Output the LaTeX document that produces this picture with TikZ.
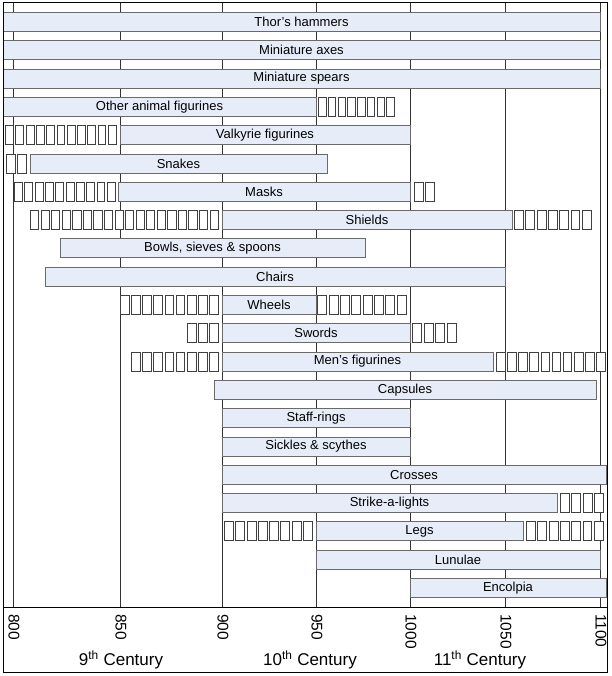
\documentclass[tikz,border=0pt]{standalone}
\usepackage{fontspec}
\setmainfont{Liberation Sans}
\definecolor{barfill}{HTML}{E7EDF8}
\definecolor{bardraw}{HTML}{6A6A6A}
\definecolor{gridc}{HTML}{333333}
\definecolor{glyphc}{HTML}{404040}
\tikzset{
  barsty/.style={draw=bardraw, fill=barfill, line width=0.9pt, inner sep=0pt,
    minimum height=19pt, font=\fontsize{13}{15}\selectfont},
  glyphbox/.style={draw=glyphc, fill=white, line width=0.9pt},
  gridline/.style={draw=gridc, line width=0.9pt},
  yearlab/.style={rotate=-90, anchor=west, inner sep=0pt, font=\fontsize{15.5}{17}\selectfont},
  centlab/.style={inner sep=0pt, font=\fontsize{17}{19}\selectfont}
}
% name, row, x0, x1, text
\newcommand\tbar[5]{%
  \node[barsty, minimum width={(#4-#3)*1pt}] (#1) at ({(#3+#4)/2},{22+28.3*#2}) {#5};}
% row, x0, x1, count
\newcommand\gboxes[4]{%
  \pgfmathsetmacro\gpitch{(#3-#2)/#4}%
  \foreach \k in {1,...,#4}{%
    \draw[glyphbox] ({#2+(\k-1)*\gpitch+0.6},{22+28.3*#1-9.5}) rectangle ++({\gpitch-2.4},19);
  }}
\begin{document}
\begin{tikzpicture}[x=1pt,y=-1pt]
\useasboundingbox (0,0) rectangle (611,676);
% grid lines
\foreach \gx/\gn in {13/g800,120/g850,222/g900,316/g950,410/g1000,505/g1050,600/g1100}{
  \coordinate (\gn t) at (\gx,3);
  \coordinate (\gn b) at (\gx,607);
  \draw[gridline] (\gn t) -- (\gn b);
}
% bars
\tbar{b0}{0}{3}{600}{Thor’s hammers}
\tbar{b1}{1}{3}{600}{Miniature axes}
\tbar{b2}{2}{3}{600}{Miniature spears}
\tbar{b3}{3}{3}{316}{Other animal figurines}
\tbar{b4}{4}{120}{410}{Valkyrie figurines}
\tbar{b5}{5}{30}{327}{Snakes}
\tbar{b6}{6}{118}{410}{Masks}
\tbar{b7}{7}{222}{512}{Shields}
\tbar{b8}{8}{60}{365}{Bowls, sieves \& spoons}
\tbar{b9}{9}{45}{505}{Chairs}
\tbar{b10}{10}{222}{316}{Wheels}
\tbar{b11}{11}{222}{410}{Swords}
\tbar{b12}{12}{222}{493}{Men’s figurines}
\tbar{b13}{13}{214}{596}{Capsules}
\tbar{b14}{14}{222}{410}{Staff-rings}
\tbar{b15}{15}{222}{410}{Sickles \& scythes}
\tbar{b16}{16}{222}{606}{Crosses}
\tbar{b17}{17}{222}{557}{Strike-a-lights}
\tbar{b18}{18}{316}{523}{Legs}
\tbar{b19}{19}{316}{600}{Lunulae}
\tbar{b20}{20}{410}{606}{Encolpia}
% empty glyph boxes
\gboxes{3}{318}{396}{8}
\gboxes{4}{5}{118}{11}
\gboxes{5}{6}{28}{2}
\gboxes{6}{14}{117}{10}
\gboxes{6}{414}{436}{2}
\gboxes{7}{30}{220}{18}
\gboxes{7}{514}{593}{7}
\gboxes{10}{120}{220}{9}
\gboxes{10}{317}{408}{8}
\gboxes{11}{187}{220}{3}
\gboxes{11}{412}{458}{4}
\gboxes{12}{131}{220}{8}
\gboxes{12}{496}{607}{10}
\gboxes{17}{560}{605}{4}
\gboxes{18}{224}{314}{8}
\gboxes{18}{526}{605}{7}
% frame and axis
\coordinate (fa) at (3,3);
\coordinate (fb) at (607,672);
\coordinate (al) at (3,607);
\coordinate (ar) at (607,607);
\draw[black, line width=1pt] (fa) rectangle (fb);
\draw[black, line width=1pt] (al) -- (ar);
% year labels
\foreach \gx/\yr in {14/800,121/850,223/900,317/950,411/1000,506/1050,601/1100}{
  \node[yearlab] (y\yr) at (\gx,614) {\yr};
}
\node[centlab] (c9) at (121,660) {9\textsuperscript{th} Century};
\node[centlab] (c10) at (310,660) {10\textsuperscript{th} Century};
\node[centlab] (c11) at (480,660) {11\textsuperscript{th} Century};
\end{tikzpicture}
\end{document}
